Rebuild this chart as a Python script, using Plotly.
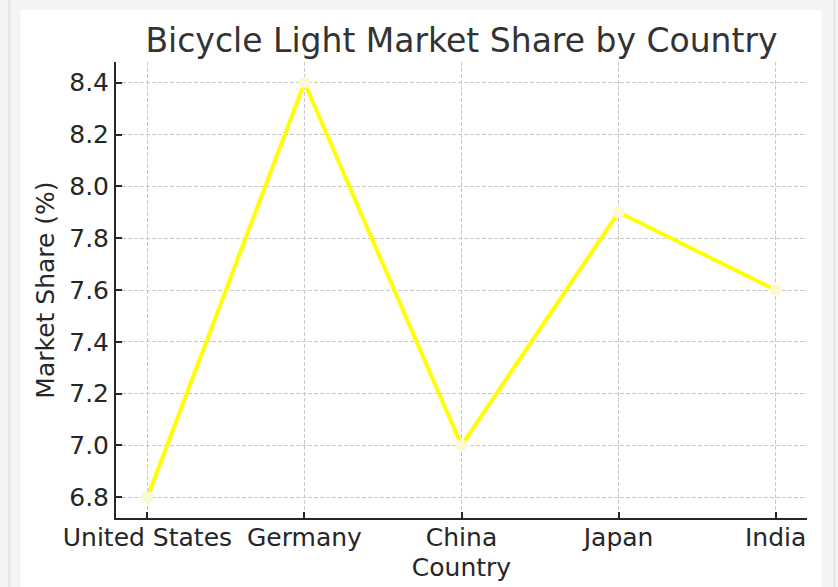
import plotly.graph_objects as go

countries = ["United States", "Germany", "China", "Japan", "India"]
market_share = [6.8, 8.4, 7.0, 7.9, 7.6]
y_ticks = [6.8, 7.0, 7.2, 7.4, 7.6, 7.8, 8.0, 8.2, 8.4]
y_tick_labels = ["6.8", "7.0", "7.2", "7.4", "7.6", "7.8", "8.0", "8.2", "8.4"]

FONT = "DejaVu Sans"
DARK = "#262626"

fig = go.Figure()
fig.add_trace(go.Scatter(
    x=list(range(len(countries))),
    y=market_share,
    mode="lines+markers",
    line=dict(color="#ffff00", width=4),
    marker=dict(color="#fafad2", size=12, line=dict(width=0)),
    showlegend=False,
))

L, R, T, B = 115.5, 30.5, 62, 69
W, H = 838, 587
pw = W - L - R
ph = H - T - B

def px_x(x):
    return (x - L) / pw

def px_y(y):
    return (H - B - y) / ph

# page frame decoration
fig.add_shape(type="rect", xref="paper", yref="paper",
              x0=px_x(20), x1=px_x(822), y0=px_y(620), y1=px_y(10),
              fillcolor="white", line=dict(width=0), layer="below")
fig.add_shape(type="line", xref="paper", yref="paper",
              x0=px_x(8.5), x1=px_x(8.5), y0=px_y(620), y1=px_y(-10),
              line=dict(color="#e4e4e4", width=2), layer="below")
fig.add_shape(type="line", xref="paper", yref="paper",
              x0=px_x(835), x1=px_x(835), y0=px_y(620), y1=px_y(-10),
              line=dict(color="#e4e4e4", width=2), layer="below")

fig.update_layout(
    width=W, height=H,
    margin=dict(l=L, r=R, t=T, b=B, pad=0),
    paper_bgcolor="#f4f4f4",
    plot_bgcolor="white",
    font=dict(family=FONT, color=DARK, size=25),
    title=dict(
        text="Bicycle Light Market Share by Country",
        font=dict(family=FONT, size=33, color="#333333"),
        x=px_x(461.5), xref="paper", xanchor="center",
        y=1 - 40 / H, yanchor="middle",
    ),
    xaxis=dict(
        range=[-0.2, 4.2],
        automargin=False,
        tickmode="array",
        tickvals=list(range(len(countries))),
        ticktext=countries,
        showline=True, linecolor=DARK, linewidth=2,
        ticks="inside", ticklen=6, tickwidth=1.5, tickcolor=DARK,
        ticklabelstandoff=-4,
        showgrid=True, gridcolor="#c8c8c8", gridwidth=1, griddash="4px,2px",
        zeroline=False,
        tickfont=dict(family=FONT, size=25, color=DARK),
        title=dict(text="Country", font=dict(family=FONT, size=25, color=DARK), standoff=7),
    ),
    yaxis=dict(
        range=[6.72, 8.48],
        automargin=False,
        tickmode="array",
        tickvals=y_ticks,
        ticktext=y_tick_labels,
        showline=True, linecolor=DARK, linewidth=2,
        ticks="inside", ticklen=6, tickwidth=1.5, tickcolor=DARK,
        showgrid=True, gridcolor="#c8c8c8", gridwidth=1, griddash="4px,2px",
        zeroline=False,
        tickfont=dict(family=FONT, size=25, color=DARK),
        title=dict(text="Market Share (%)", font=dict(family=FONT, size=25, color=DARK), standoff=7),
    ),
)

fig.write_html(
    "out.html",
    config={"displayModeBar": False},
    post_script="document.body.style.margin='0';document.body.style.background='#f4f4f4';",
)
